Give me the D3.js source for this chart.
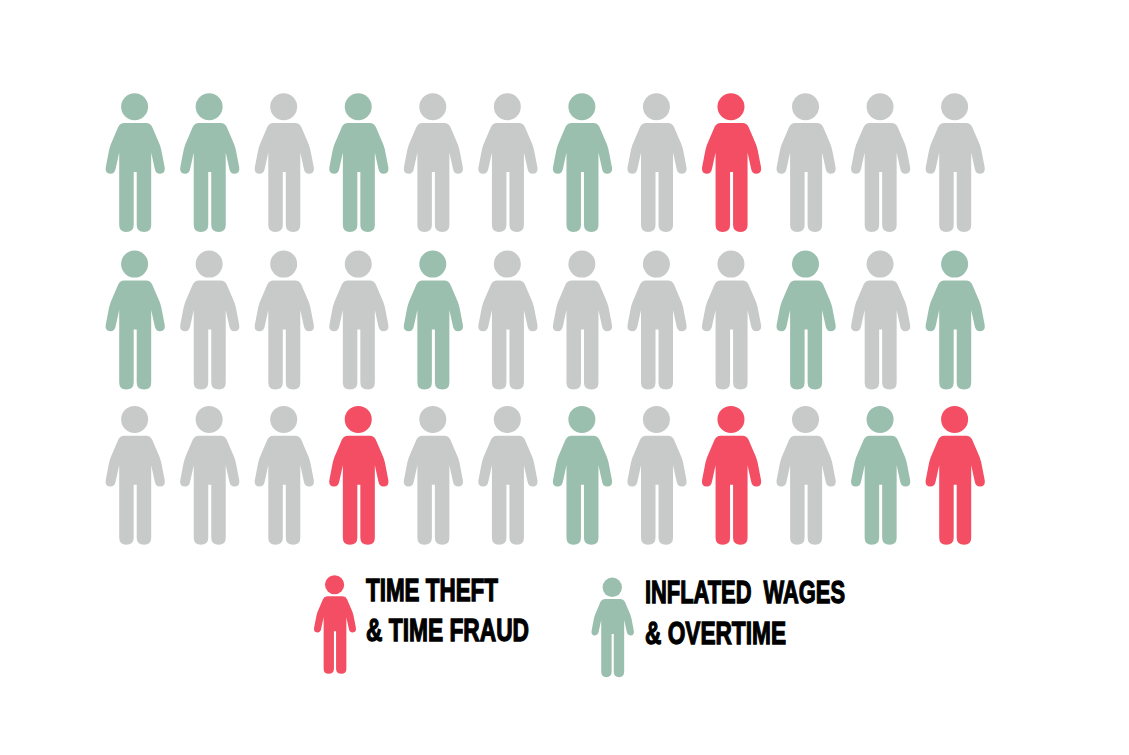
<!DOCTYPE html>
<html>
<head>
<meta charset="utf-8">
<script src="https://cdn.jsdelivr.net/npm/d3@7"></script>
<style>
  html, body { margin: 0; background: #fff; }
  text { font-family: "Liberation Sans Narrow", "Liberation Sans", sans-serif; font-weight: 700; fill: #000; }
</style>
</head>
<body>
<div class="canvas"></div>
<script>
// one entry per person, row by row
const row1 = ["wages", "wages", "none", "wages", "none", "none", "wages", "none", "theft", "none", "none", "none"];
const row2 = ["wages", "none", "none", "none", "wages", "none", "none", "none", "none", "wages", "none", "wages"];
const row3 = ["none", "none", "none", "theft", "none", "none", "wages", "none", "theft", "none", "wages", "theft"];
const rows = [row1, row2, row3];

const categories = ["none", "wages", "theft"];
const categoryColors = ["#c8cac9", "#9bbfae", "#f34e63"];

const legendKeys = ["theft", "wages"];
const legendLines = [
  ["TIME THEFT", "& TIME FRAUD"],
  ["INFLATED  WAGES", "& OVERTIME"],
];

const svg = d3
  .select(".canvas")
  .append("svg")
  .attr("width", 1129)
  .attr("height", 755)
  .style("display", "block");

const color = d3.scaleOrdinal().domain(categories).range(categoryColors);

const xScale = d3.scalePoint().domain(d3.range(row1.length)).range([135.2, 955.2]);
// rows are not quite evenly spaced in the original
const yScale = d3.scaleOrdinal().domain(d3.range(rows.length)).range([107, 264.4, 419.7]);

// person figure, origin at the centre of the head
const bodyPath =
  "M-11,16 L11,16 Q15,16 17,20 L24.5,37.5 Q26,41.5 27,47.5 L29.5,60.5 " +
  "Q30.3,66.5 25,66.8 Q20.5,67 19.5,61.5 L16,45.5 L16,118 " +
  "Q16,125 9,125 Q1.5,125 1.5,118 L1.5,65 L-1.5,65 L-1.5,118 " +
  "Q-1.5,125 -9,125 Q-16,125 -16,118 L-16,45.5 L-19.5,61.5 " +
  "Q-20.5,67 -25,66.8 Q-30.3,66.5 -29.5,60.5 L-27,47.5 Q-26,41.5 -24.5,37.5 L-17,20 Q-15,16 -11,16 Z";

function drawPerson(sel) {
  sel.append("circle").attr("cx", -0.6).attr("cy", -0.3).attr("r", 13.5).attr("fill", (d) => color(d.key));
  sel.append("path").attr("d", bodyPath).attr("fill", (d) => color(d.key));
}

const people = rows.flatMap((row, r) => row.map((key, c) => ({ key, r, c })));

svg
  .append("g")
  .selectAll("g")
  .data(people)
  .enter()
  .append("g")
  .attr("transform", (d) => `translate(${xScale(d.c)},${yScale(d.r)})`)
  .call(drawPerson);

// Legend
const legendPos = [
  { x: 335, y: 585, scale: 0.71, textX: 366, base: [601.4, 641.4], width: [132, 163] },
  { x: 612.7, y: 587.5, scale: 0.717, textX: 645, base: [603.4, 644.4], width: [200, 141] },
];

legendKeys.forEach((key, i) => {
  const p = legendPos[i];
  svg
    .append("g")
    .datum({ key })
    .attr("transform", `translate(${p.x},${p.y}) scale(${p.scale})`)
    .call(drawPerson);

  legendLines[i].forEach((line, j) => {
    svg
      .append("text")
      .attr("x", p.textX)
      .attr("y", p.base[j])
      .attr("font-size", 32)
      .attr("textLength", p.width[j])
      .attr("lengthAdjust", "spacingAndGlyphs")
      .attr("stroke", "#000")
      .attr("stroke-width", 1.3)
      .style("white-space", "pre")
      .text(line);
  });
});
</script>
</body>
</html>
